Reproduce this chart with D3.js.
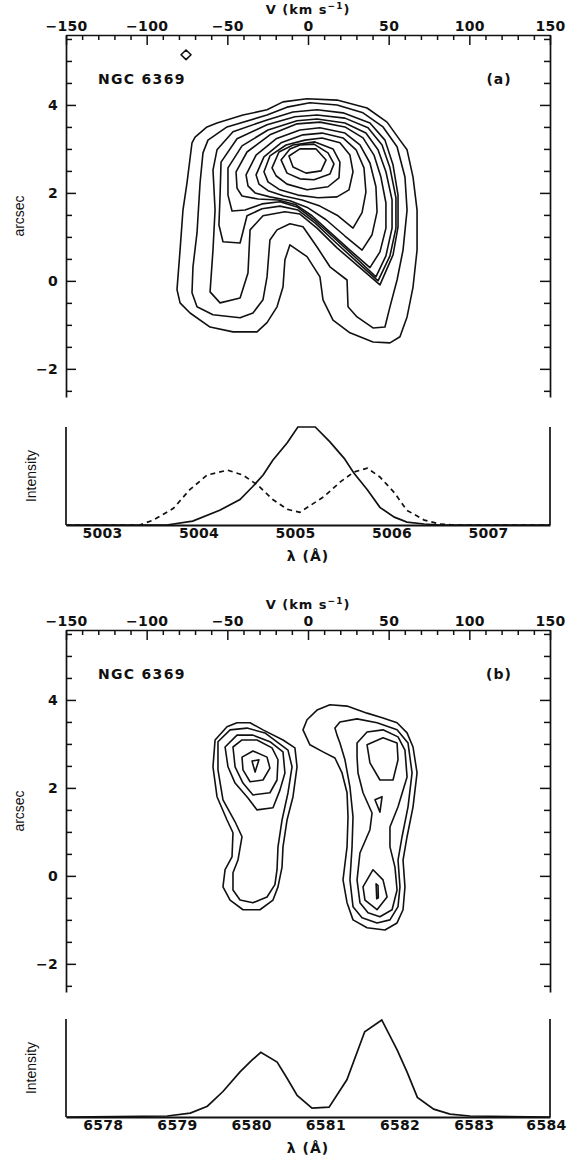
<!DOCTYPE html>
<html><head><meta charset="utf-8">
<script src="https://cdn.jsdelivr.net/npm/d3@7"></script>
<style>body{margin:0;background:#fff}svg{display:block}</style>
</head><body>
<svg id="chart" width="567" height="1155"></svg>
<script>
// ---------------- DATA ----------------
const velocityMajorTicks = [-150,-100,-50,0,50,100,150];
const velocityMinorTicks = [-140,-130,-120,-110,-90,-80,-70,-60,-40,-30,-20,-10,10,20,30,40,60,70,80,90,110,120,130,140];
const arcsecMajorTicks = [-2,0,2,4];
const arcsecMinorTicks = [-2.5,-1.5,-1,-0.5,0.5,1,1.5,2.5,3,3.5,4.5,5,5.5];
const o3LambdaTicks = [5003,5004,5005,5006,5007];
const n2LambdaTicks = [6578,6579,6580,6581,6582,6583,6584];
const objectName = "NGC 6369";

// [O III] position-velocity contours: [velocity km/s, arcsec]
const o3Contours = [
 [[-70.0,3.27],[-62.6,3.50],[-56.4,3.59],[-40.3,3.77],[-25.4,3.89],[-15.5,4.07],[-0.6,4.14],[18.0,4.11],[36.6,3.93],[49.0,3.61],[57.0,3.20],[61.4,2.98],[65.1,2.36],[67.6,1.61],[67.6,0.70],[65.1,-0.14],[61.4,-0.82],[57.0,-1.27],[50.8,-1.41],[40.3,-1.39],[26.0,-1.18],[15.5,-0.89],[9.3,-0.43],[7.4,0.09],[-0.6,0.55],[-11.2,0.82],[-14.3,0.48],[-15.5,-0.14],[-19.2,-0.59],[-25.4,-0.95],[-31.6,-1.16],[-46.5,-1.16],[-60.7,-1.05],[-73.1,-0.73],[-79.3,-0.50],[-81.2,-0.20],[-79.3,0.70],[-77.5,1.61],[-75.0,2.23],[-71.9,3.14]],
 [[-62.0,3.20],[-50.2,3.50],[-25.4,3.77],[-13.0,3.95],[1.2,4.05],[18.0,4.00],[34.1,3.82],[46.5,3.50],[55.2,3.05],[60.1,2.36],[61.4,1.61],[58.9,0.70],[55.2,0.02],[50.8,-0.59],[47.7,-1.05],[40.3,-1.07],[30.4,-0.82],[24.8,-0.59],[24.2,0.02],[13.6,0.32],[5.6,0.77],[-3.1,1.23],[-11.2,1.30],[-19.2,1.16],[-23.6,0.93],[-25.4,0.09],[-27.9,-0.43],[-34.1,-0.73],[-42.1,-0.84],[-58.9,-0.77],[-68.8,-0.59],[-71.9,-0.27],[-71.3,0.32],[-68.8,1.09],[-66.9,2.23],[-65.1,2.91]],
 [[-56.4,2.98],[-46.5,3.39],[-25.4,3.66],[-9.3,3.84],[5.6,3.89],[21.7,3.82],[38.4,3.59],[47.7,3.20],[52.7,2.64],[55.8,1.95],[55.8,1.23],[52.7,0.59],[44.6,-0.09],[32.2,0.30],[18.0,0.75],[5.6,1.20],[-5.0,1.52],[-14.3,1.57],[-27.9,1.48],[-35.9,1.16],[-37.2,0.18],[-42.1,-0.39],[-54.5,-0.50],[-60.7,-0.25],[-58.9,0.70],[-57.6,1.61],[-58.9,2.52]],
 [[-53.9,2.70],[-44.0,3.23],[-25.4,3.55],[-8.1,3.73],[5.6,3.77],[22.9,3.70],[37.2,3.48],[45.9,3.09],[50.8,2.57],[54.5,1.89],[54.5,1.20],[50.8,0.57],[43.4,0.00],[30.4,0.43],[16.7,0.89],[4.3,1.32],[-6.2,1.61],[-17.4,1.70],[-28.5,1.64],[-37.8,1.48],[-42.1,0.86],[-52.7,0.89],[-55.2,1.27],[-54.5,1.95]],
 [[-49.6,2.57],[-40.9,3.07],[-24.8,3.43],[-6.8,3.64],[5.6,3.68],[22.9,3.59],[35.9,3.36],[43.4,2.98],[48.3,2.48],[52.1,1.84],[52.1,1.20],[48.3,0.57],[42.1,0.09],[29.8,0.52],[16.1,0.98],[3.7,1.39],[-6.8,1.68],[-17.4,1.80],[-28.5,1.75],[-39.0,1.61],[-47.1,1.59],[-49.6,1.95]],
 [[-44.6,2.48],[-37.8,2.93],[-23.6,3.32],[-6.8,3.57],[7.4,3.61],[22.9,3.50],[34.1,3.25],[40.9,2.86],[45.2,2.36],[48.3,1.77],[48.3,1.20],[44.6,0.66],[38.4,0.30],[26.0,0.70],[13.6,1.11],[2.5,1.48],[-7.4,1.73],[-18.6,1.84],[-31.0,1.86],[-40.9,1.93],[-44.0,2.11]],
 [[-38.4,2.41],[-32.2,2.86],[-19.8,3.23],[-5.0,3.43],[7.4,3.48],[22.9,3.36],[32.2,3.09],[38.4,2.68],[42.1,2.14],[42.8,1.57],[39.7,1.05],[33.5,0.70],[22.9,1.02],[11.2,1.39],[0.0,1.66],[-11.2,1.82],[-23.6,1.91],[-32.8,2.00],[-37.2,2.16]],
 [[-32.2,2.41],[-27.3,2.82],[-16.7,3.14],[-3.1,3.32],[8.7,3.36],[21.7,3.25],[29.8,2.98],[34.7,2.57],[35.9,2.02],[33.5,1.55],[27.9,1.20],[18.6,1.48],[7.4,1.70],[-3.7,1.84],[-14.9,1.93],[-24.8,2.05],[-30.4,2.20]],
 [[-27.3,2.48],[-23.6,2.84],[-13.6,3.09],[-1.9,3.20],[8.7,3.25],[19.8,3.14],[26.0,2.86],[27.9,2.48],[25.4,2.07],[18.0,1.91],[6.2,1.89],[-6.2,1.95],[-17.4,2.07],[-24.8,2.25]],
 [[-22.3,2.57],[-18.0,2.93],[-9.3,3.09],[4.3,3.16],[15.5,3.00],[19.8,2.70],[19.2,2.34],[12.4,2.14],[-0.6,2.07],[-13.0,2.20],[-19.8,2.39]],
 [[-16.7,2.75],[-11.2,3.00],[-5.0,3.09],[3.7,3.11],[12.4,2.91],[16.1,2.66],[13.6,2.43],[3.7,2.30],[-5.0,2.32],[-13.0,2.45]],
 [[-11.8,2.84],[-5.0,3.00],[5.0,3.00],[11.2,2.75],[8.1,2.50],[-1.2,2.45],[-9.3,2.59]],
 [[-78.7,5.14],[-75.6,5.25],[-72.5,5.14],[-75.6,5.03]]
];

// [N II] position-velocity contours: [velocity km/s, arcsec]
const n2Contours = [
 [[-57.6,3.09],[-50.2,3.39],[-44.0,3.48],[-35.9,3.48],[-27.9,3.32],[-15.5,3.09],[-8.1,2.91],[-6.8,2.48],[-9.3,1.80],[-13.0,1.27],[-15.5,0.66],[-16.1,0.20],[-18.6,-0.25],[-21.7,-0.55],[-29.8,-0.77],[-40.3,-0.77],[-48.3,-0.55],[-52.7,-0.25],[-51.4,0.14],[-47.1,0.43],[-46.5,0.98],[-50.2,1.27],[-56.4,1.80],[-58.9,2.48]],
 [[-55.8,3.05],[-48.3,3.32],[-37.8,3.36],[-26.7,3.25],[-12.4,2.86],[-9.9,2.48],[-12.4,1.89],[-16.1,1.27],[-18.6,0.66],[-19.2,0.14],[-20.5,-0.20],[-25.4,-0.48],[-34.1,-0.61],[-42.1,-0.55],[-46.5,-0.32],[-46.5,0.07],[-43.4,0.36],[-40.9,0.89],[-45.2,1.23],[-52.7,1.73],[-55.8,2.41]],
 [[-51.4,2.93],[-44.0,3.20],[-34.1,3.20],[-23.6,3.05],[-15.5,2.82],[-14.3,2.34],[-17.4,1.95],[-21.7,1.55],[-31.6,1.50],[-37.2,1.77],[-45.2,2.11],[-49.6,2.48]],
 [[-46.5,2.93],[-40.9,3.09],[-31.6,3.09],[-22.3,2.91],[-18.6,2.64],[-19.2,2.18],[-23.6,1.89],[-34.1,1.84],[-40.3,2.11],[-45.2,2.48]],
 [[-40.9,2.70],[-34.1,2.84],[-25.4,2.70],[-23.6,2.45],[-27.9,2.18],[-35.9,2.14],[-40.3,2.41]],
 [[-34.7,2.61],[-30.4,2.64],[-32.8,2.36]],
 [[-3.1,3.32],[-0.6,3.55],[5.6,3.77],[13.6,3.89],[24.2,3.86],[36.6,3.70],[46.5,3.59],[55.2,3.48],[61.4,3.25],[65.1,2.93],[67.6,2.34],[65.1,1.57],[61.4,0.89],[58.9,0.36],[60.1,-0.25],[58.9,-0.77],[55.2,-1.07],[47.7,-1.23],[36.6,-1.18],[27.9,-1.00],[24.2,-0.61],[21.7,-0.09],[24.2,0.66],[24.8,1.34],[24.2,1.89],[21.1,2.34],[16.7,2.68],[9.3,2.82],[1.2,2.98]],
 [[16.7,3.36],[19.8,3.50],[30.4,3.57],[42.8,3.48],[55.2,3.32],[62.0,3.02],[64.5,2.34],[62.0,1.57],[58.3,0.89],[55.8,0.36],[57.0,-0.25],[55.8,-0.70],[50.8,-1.00],[42.8,-1.07],[33.5,-0.95],[27.9,-0.70],[26.0,-0.09],[27.3,0.66],[27.9,1.34],[26.0,2.02],[22.9,2.64],[19.8,3.02],[18.0,3.20]],
 [[30.4,3.02],[36.6,3.27],[46.5,3.32],[55.8,3.16],[60.1,2.86],[61.4,2.25],[55.8,1.57],[50.8,1.11],[50.8,0.66],[53.9,0.20],[55.2,-0.32],[52.1,-0.77],[44.6,-0.93],[37.2,-0.84],[32.2,-0.61],[30.4,-0.09],[32.2,0.52],[38.4,1.05],[39.7,1.43],[34.1,1.89],[31.0,2.34],[30.4,2.70]],
 [[36.6,2.98],[46.5,3.14],[55.2,3.02],[55.8,2.64],[52.7,2.18],[44.6,2.18],[38.4,2.57]],
 [[41.5,1.73],[45.9,1.80],[44.6,1.45]],
 [[34.1,-0.25],[40.3,0.14],[46.5,-0.09],[49.0,-0.48],[42.8,-0.77],[35.3,-0.55]],
 [[42.2,-0.18],[43.4,-0.22],[43.6,-0.50],[42.6,-0.52]]
];

// [O III] 5007 integrated spectra (solid and dashed)
const o3SolidLambda = [5002.63,5003.67,5003.94,5004.22,5004.43,5004.56,5004.67,5004.77,5004.92,5005.03,5005.21,5005.36,5005.51,5005.61,5005.75,5005.88,5006.03,5006.16,5006.34,5006.50,5007.64];
const o3SolidIntensity = [0,0,0.04,0.15,0.26,0.39,0.51,0.66,0.84,1.00,1.00,0.85,0.68,0.53,0.36,0.18,0.08,0.03,0.01,0,0];
const o3DashLambda = [5002.63,5003.39,5003.53,5003.74,5003.91,5004.09,5004.30,5004.46,5004.61,5004.77,5004.92,5005.05,5005.16,5005.30,5005.47,5005.61,5005.75,5005.88,5006.03,5006.16,5006.34,5006.50,5006.65,5007.64];
const o3DashIntensity = [0,0,0.05,0.17,0.36,0.51,0.56,0.51,0.41,0.26,0.16,0.13,0.20,0.29,0.44,0.54,0.58,0.49,0.33,0.15,0.05,0.01,0,0];

// [N II] 6583 spectrum
const n2Lambda = [6577.51,6578.87,6579.18,6579.41,6579.62,6579.85,6580.01,6580.13,6580.35,6580.48,6580.62,6580.82,6581.05,6581.29,6581.53,6581.76,6581.97,6582.10,6582.24,6582.46,6582.68,6582.95,6584.02];
const n2Intensity = [0,0.01,0.04,0.11,0.26,0.46,0.58,0.66,0.56,0.40,0.22,0.09,0.10,0.38,0.87,0.99,0.68,0.46,0.20,0.08,0.03,0.01,0];

// ---------------- LAYOUT ----------------
const W = 567;
const L = {
  left: 66, right: 550,
  panels: [
    {top: 35, bottom: 397, specTop: 427, specBase: 525, tag: "(a)", contours: o3Contours,
     lam: [5002.627, 5007.643], lamTicks: o3LambdaTicks},
    {top: 630, bottom: 992, specTop: 1019, specBase: 1117, tag: "(b)", contours: n2Contours,
     lam: [6577.505, 6584.027], lamTicks: n2LambdaTicks}
  ]
};
const NUMFONT = "'DejaVu Sans', sans-serif";
const LBLFONT = "'Liberation Sans', Arial, sans-serif";
const INK = "#111";

const svg = d3.select("#chart");
svg.append("rect").attr("width",W).attr("height",1155).attr("fill","#fff");

const fmt = d3.format("d");

function styleAxis(g, w) {
  g.selectAll("path.domain").attr("stroke", INK).attr("stroke-width", w || 1.7);
  g.selectAll(".tick line").attr("stroke", INK).attr("stroke-width", 1.5);
  g.selectAll("text").attr("fill", INK).style("font-family", NUMFONT)
    .style("font-weight", "bold").style("font-size", "14px").style("letter-spacing","0.3px");
}

// keep tick labels inside the picture (shift any that would run past the right edge)
function keepInside(g, scale) {
  g.selectAll(".tick text").each(function(d) {
    const len = this.getComputedTextLength();
    const right = scale(d) + len / 2;
    if (right > W - 1) d3.select(this).attr("dx", (W - 1) - right);
  });
}

L.panels.forEach((p, i) => {
  const x = d3.scaleLinear().domain([-150,150]).range([L.left, L.right]);
  const y = d3.scaleLinear().domain([-2.64, 5.59]).range([p.bottom, p.top]);
  const g = svg.append("g");

  // top axis: major
  const gt = g.append("g").attr("transform", `translate(0,${p.top})`)
    .call(d3.axisTop(x).tickValues(velocityMajorTicks).tickFormat(fmt).tickSizeInner(-10).tickSizeOuter(0).tickPadding(4));
  styleAxis(gt);
  keepInside(gt, x);
  const gtm = g.append("g").attr("transform", `translate(0,${p.top})`)
    .call(d3.axisTop(x).tickValues(velocityMinorTicks).tickFormat("").tickSizeInner(-5).tickSizeOuter(0));
  styleAxis(gtm); gtm.select("path.domain").remove();

  // left axis
  const gl = g.append("g").attr("transform", `translate(${L.left},0)`)
    .call(d3.axisLeft(y).tickValues(arcsecMajorTicks).tickFormat(fmt).tickSizeInner(-10).tickSizeOuter(0).tickPadding(8));
  styleAxis(gl);
  const glm = g.append("g").attr("transform", `translate(${L.left},0)`)
    .call(d3.axisLeft(y).tickValues(arcsecMinorTicks).tickFormat("").tickSizeInner(-6).tickSizeOuter(0));
  styleAxis(glm); glm.select("path.domain").remove();

  // right axis
  const gr = g.append("g").attr("transform", `translate(${L.right},0)`)
    .call(d3.axisRight(y).tickValues(arcsecMajorTicks).tickFormat("").tickSizeInner(-10).tickSizeOuter(0));
  styleAxis(gr);
  const grm = g.append("g").attr("transform", `translate(${L.right},0)`)
    .call(d3.axisRight(y).tickValues(arcsecMinorTicks).tickFormat("").tickSizeInner(-6).tickSizeOuter(0));
  styleAxis(grm); grm.select("path.domain").remove();

  // top axis title
  const tt = g.append("text").attr("x", x(0)).attr("y", p.top - 21)
    .attr("text-anchor", "middle").attr("fill", INK)
    .style("font-family", NUMFONT).style("font-weight","bold").style("font-size","13px").style("letter-spacing","1px");
  tt.append("tspan").text("V (km s");
  tt.append("tspan").attr("dy", -5).style("font-size","9px").text("\u22121");
  tt.append("tspan").attr("dy", 5).text(")");

  // y title
  g.append("text").attr("transform", `translate(24,${(p.top+p.bottom)/2}) rotate(-90)`)
    .attr("text-anchor","middle").attr("fill", INK)
    .style("font-family", LBLFONT).style("font-size","14px").text("arcsec");

  // labels
  g.append("text").attr("x", 98).attr("y", p.top + 49).attr("fill", INK)
    .style("font-family", NUMFONT).style("font-weight","bold").style("font-size","14px").style("letter-spacing","1.3px")
    .text(objectName);
  g.append("text").attr("x", 499).attr("y", p.top + 49).attr("text-anchor","middle").attr("fill", INK)
    .style("font-family", NUMFONT).style("font-weight","bold").style("font-size","14px").style("letter-spacing","1px")
    .text(p.tag);

  // contours
  const line = d3.line().x(d => x(d[0])).y(d => y(d[1])).curve(d3.curveLinearClosed);
  g.append("g").selectAll("path").data(p.contours).join("path")
    .attr("d", line).attr("fill","none").attr("stroke", INK).attr("stroke-width", 1.6)
    .attr("stroke-linejoin","round");

  // spectrum panel
  const sx = d3.scaleLinear().domain(p.lam).range([L.left, L.right]);
  const sy = d3.scaleLinear().domain([0,1]).range([p.specBase, p.specTop]);
  const gs = svg.append("g");
  const gb = gs.append("g").attr("transform", `translate(0,${p.specBase})`)
    .call(d3.axisBottom(sx).tickValues(p.lamTicks).tickFormat(fmt).tickSize(0).tickPadding(3));
  styleAxis(gb, 1.9);
  keepInside(gb, sx);
  gs.append("line").attr("x1", L.left).attr("x2", L.left).attr("y1", p.specTop).attr("y2", p.specBase)
    .attr("stroke", INK).attr("stroke-width", 1.7);
  gs.append("line").attr("x1", L.right).attr("x2", L.right).attr("y1", p.specTop).attr("y2", p.specBase)
    .attr("stroke", INK).attr("stroke-width", 1.7);
  gs.append("text").attr("transform", `translate(36,${(p.specTop+p.specBase)/2}) rotate(-90)`)
    .attr("text-anchor","middle").attr("fill", INK)
    .style("font-family", LBLFONT).style("font-size","14px").text("Intensity");
  gs.append("text").attr("x", x(0)).attr("y", p.specBase + 36).attr("text-anchor","middle").attr("fill", INK)
    .style("font-family", NUMFONT).style("font-weight","bold").style("font-size","14px").style("letter-spacing","1px")
    .text("\u03bb (\u00c5)");

  const sline = d3.line().x(d => sx(d[0])).y(d => sy(d[1]));
  if (i === 0) {
    gs.append("path").datum(d3.zip(o3DashLambda, o3DashIntensity)).attr("d", sline)
      .attr("fill","none").attr("stroke", INK).attr("stroke-width", 1.7).attr("stroke-dasharray","5,4");
    gs.append("path").datum(d3.zip(o3SolidLambda, o3SolidIntensity)).attr("d", sline)
      .attr("fill","none").attr("stroke", INK).attr("stroke-width", 1.7);
  } else {
    gs.append("path").datum(d3.zip(n2Lambda, n2Intensity)).attr("d", sline)
      .attr("fill","none").attr("stroke", INK).attr("stroke-width", 1.7);
  }
});
</script>
</body></html>
